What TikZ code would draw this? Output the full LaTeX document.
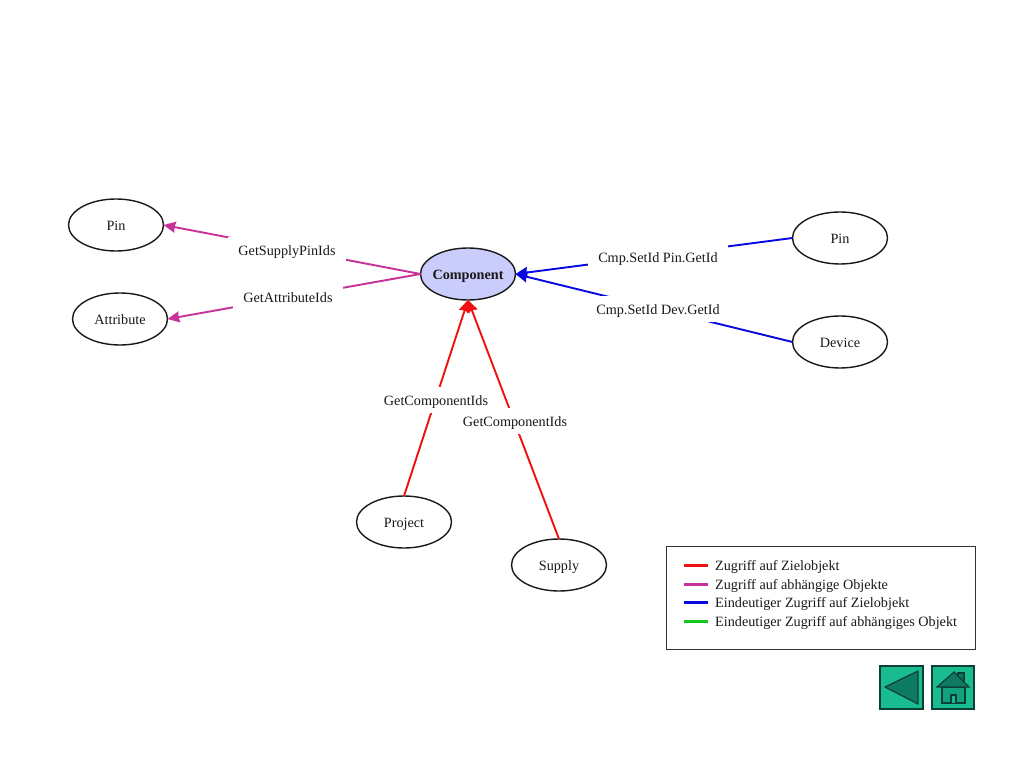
\documentclass[tikz,border=0pt]{standalone}
\usepackage{fontspec}
\setmainfont{Liberation Serif}
\usetikzlibrary{shapes.geometric,arrows.meta}
\definecolor{cred}{HTML}{F01010}
\definecolor{cpink}{HTML}{C8309A}
\definecolor{cblue}{HTML}{0808E0}
\definecolor{cgreen}{HTML}{10C820}
\definecolor{cfill}{HTML}{CACCFC}
\definecolor{btn}{HTML}{18BC8E}
\definecolor{btndark}{HTML}{0E7A60}
\definecolor{btnline}{HTML}{0B3F38}
\tikzset{
  x=1pt,y=-1pt,
  txt/.style={font=\fontsize{14.2}{16}\selectfont,text=black!90,text height=11pt,text depth=0pt},
  obj/.style={draw=black!90,line width=1.4pt,ellipse,inner sep=0pt,outer sep=0pt,minimum width=95pt,minimum height=52pt,txt},
  lab/.style={fill=white,inner xsep=10pt,inner ysep=0pt,minimum height=26pt,txt},
  conn/.style={line width=1.9pt,-{Stealth[length=12pt,width=11pt,inset=1pt]}},
  leg/.style={line width=3pt},
  legt/.style={anchor=west,inner sep=0pt,txt},
  navbtn/.style={draw=btnline,line width=1.2pt,fill=btn},
  navshape/.style={draw=btnline,line width=1.2pt,fill=btndark},
}
\begin{document}
\begin{tikzpicture}
\useasboundingbox (0,0) rectangle (1024,767);
\fill[white] (0,0) rectangle (1024,767);
\node[obj] (pinL) at (116,225) {Pin};
\node[obj] (attr) at (120,319) {Attribute};
\node[obj,fill=cfill,font=\fontsize{14.2}{16}\selectfont\bfseries] (comp) at (468,274) {\makebox[30pt]{Component}};
\node[obj] (pinR) at (840,238) {Pin};
\node[obj] (dev) at (840,342) {Device};
\node[obj] (proj) at (404,522) {Project};
\node[obj] (sup) at (559,565) {Supply};
\draw[conn,cpink] (comp.west) -- (pinL.east);
\draw[conn,cpink] (comp.west) -- (attr.east);
\draw[conn,cblue] (pinR.west) -- (comp.east);
\draw[conn,cblue] (dev.west) -- (comp.east);
\draw[conn,cred] (proj.north) -- (comp.south);
\draw[conn,cred] (sup.north) -- (comp.south);
\node[lab] (l1) at (287,250) {GetSupplyPinIds};
\node[lab] (l2) at (288,297) {GetAttributeIds};
\node[lab] (l3) at (658,257) {Cmp.SetId Pin.GetId};
\node[lab] (l4) at (658,309) {Cmp.SetId Dev.GetId};
\node[lab] (l5) at (436,400) {GetComponentIds};
\node[lab] (l6) at (515,421) {GetComponentIds};
% legend
\node[draw=black!80,line width=1pt,minimum width=309pt,minimum height=103pt,inner sep=0pt,outer sep=0pt] (legbox) at (820.5,597.5) {};
\foreach \n/\y/\c/\t in {a/565/cred/Zugriff auf Zielobjekt,b/584/cpink/Zugriff auf abhängige Objekte,c/602/cblue/Eindeutiger Zugriff auf Zielobjekt,d/621/cgreen/Eindeutiger Zugriff auf abhängiges Objekt}{
  \coordinate (s\n) at (684,\y);
  \coordinate (e\n) at (708,\y);
  \draw[leg,\c] (s\n) -- (e\n);
  \node[legt] (t\n) at (715,\y) {\t};
}
% navigation buttons
\draw[navbtn] (880,666) rectangle (923,709);
\draw[navshape,line join=round] (885,687) -- (918,671) -- (918,704) -- cycle;
\draw[navbtn] (932,666) rectangle (974,709);
\draw[navshape] (958,673) rectangle (964,682);
\draw[navshape,fill=btn!60!btndark] (942,687) rectangle (965,703);
\draw[navshape] (954,672) -- (937,687) -- (969,687) -- cycle;
\draw[draw=btnline,line width=1.2pt,fill=btn] (951,703) -- (951,695) -- (956,695) -- (956,703);
\end{tikzpicture}
\end{document}
